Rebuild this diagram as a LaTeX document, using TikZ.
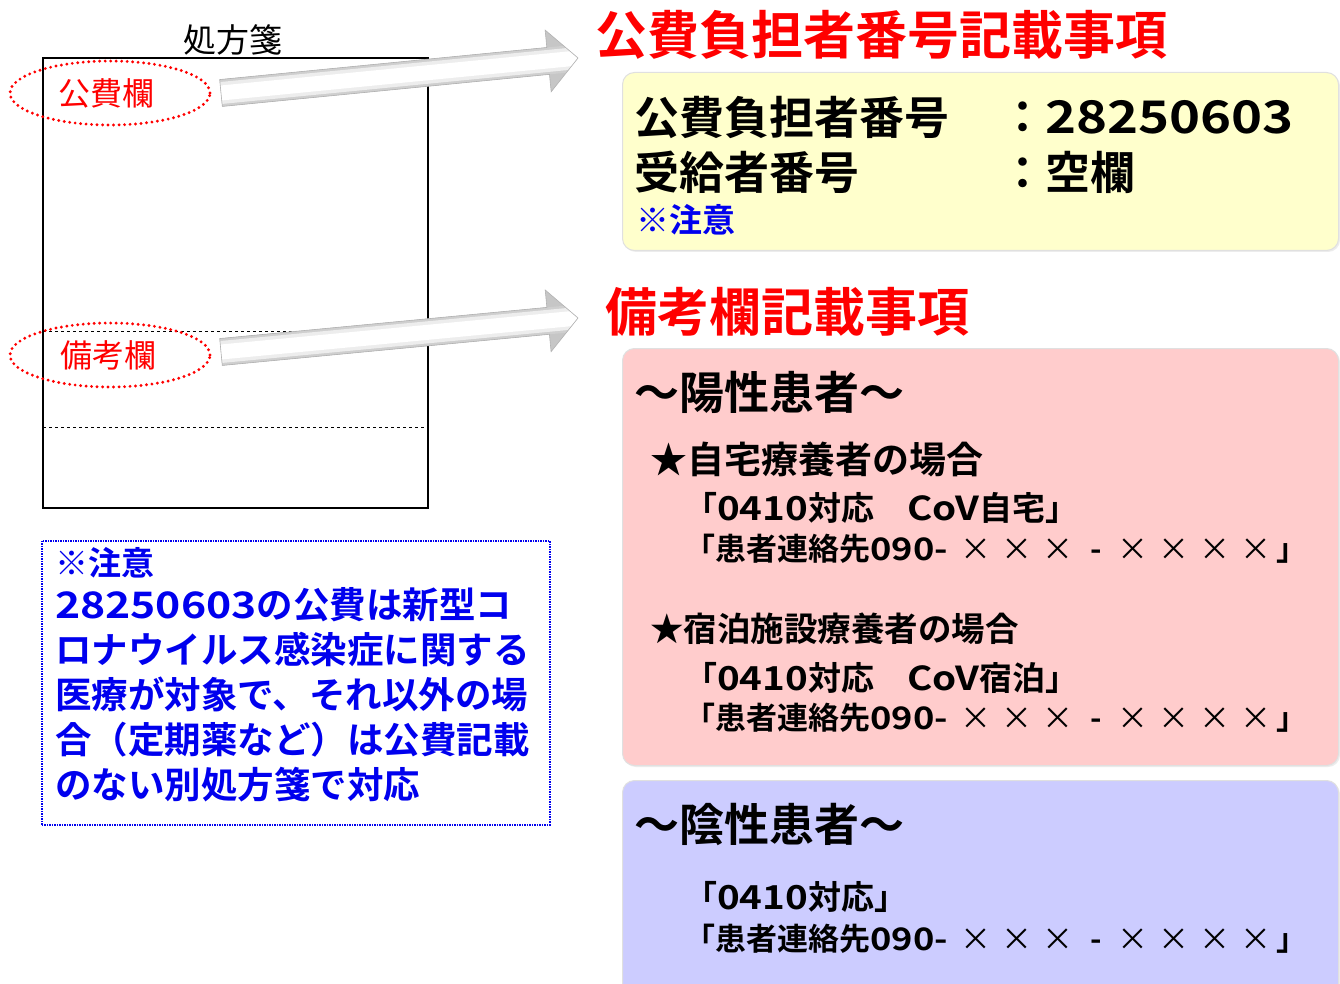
\documentclass[tikz,border=0pt]{standalone}
\usepackage{fontspec}
\setmainfont{Noto Sans CJK JP}[BoldFont={Noto Sans CJK JP Bold}]
\usetikzlibrary{shapes.geometric,calc,shadows}

\definecolor{rxred}{HTML}{FF0000}
\definecolor{rxblue}{HTML}{0000EE}
\definecolor{rxyellow}{HTML}{FFFFCC}
\definecolor{rxpink}{HTML}{FFCCCC}
\definecolor{rxlilac}{HTML}{CCCCFF}

\newcommand{\fsz}[1]{\fontsize{#1pt}{#1pt}\selectfont}
\newcommand{\widen}[1]{\scalebox{1.17}[1]{#1}}
\newcommand{\xcell}[2][41pt]{\makebox[#1]{#2}}
\newcommand{\telno}{「患者連絡先\widen{090-}\hspace{8pt}{\mdseries\xcell{×}\xcell{×}\xcell{×}}\xcell[34pt]{-}{\mdseries\xcell{×}\xcell{×}\xcell{×}\xcell{×}}」}

% shaded block arrow from #1 (tail) to #2 (tip)
\newcommand{\grayarrow}[2]{%
  \coordinate (#1-h) at ($(#2)!30pt!(#1)$);
  \draw[gray!60, line width=0.6pt, path picture={
      \draw[line width=70pt, gray!45] (#1) -- (#2);
      \draw[line width=27pt, gray!38] (#1) -- (#2);
      \draw[line width=22pt, gray!14] (#1) -- (#2);
      \draw[line width=15pt, white] (#1) -- (#2);
    }]
    ($(#1)!13.5pt!90:(#2)$) -- ($(#1-h)!13.5pt!90:(#2)$) -- ($(#1-h)!31pt!90:(#2)$) -- (#2)
    -- ($(#1-h)!31pt!-90:(#2)$) -- ($(#1-h)!13.5pt!-90:(#2)$) -- ($(#1)!13.5pt!-90:(#2)$) -- cycle;
}

\tikzset{
  fieldmark/.style={ellipse, draw=rxred, line width=3.2pt, dash pattern=on 0pt off 5.5pt,
    line cap=round, minimum width=200pt, minimum height=64pt, inner sep=0pt,
    text=rxred, font=\fsz{32}},
  heading/.style={anchor=west, inner sep=0pt, text=rxred, font=\fsz{52}\bfseries},
  infobox/.style={rectangle, rounded corners=12pt, anchor=north west, minimum width=716pt,
    draw=black!12, line width=1pt, drop shadow={opacity=0.15, shadow xshift=1.5pt, shadow yshift=-1.5pt}},
  boxtext/.style={anchor=west, inner sep=0pt, font=\fsz{#1}\bfseries},
}

\begin{document}
\begin{tikzpicture}[x=1pt, y=-1pt]
  \fill[white] (0,0) rectangle (1340,984);
  \useasboundingbox (0,0) rectangle (1340,984);

  % Prescription form
  \node[inner sep=0pt, font=\fsz{33}] (rxlabel) at (233,40) {処方箋};
  \node[draw, line width=2.5pt, minimum width=385pt, minimum height=450pt, inner sep=0pt] (rxform) at (235.5,283) {};
  \draw[dashed, thin] (43,331) -- (300,331);
  \draw[dashed, thin] (43,427) -- (428,427);

  \node[fieldmark] (kouMark) at (110,93) {\hspace{-8pt}公費欄};
  \node[fieldmark] (bikoMark) at (110,355) {\hspace{-4pt}備考欄};

  % Arrows
  \coordinate (kouTail) at (221,93);
  \coordinate (kouTip) at (578,58);
  \coordinate (bikoTail) at (221,352);
  \coordinate (bikoTip) at (578,318);
  \grayarrow{kouTail}{kouTip}
  \grayarrow{bikoTail}{bikoTip}

  % Headings
  \node[heading] (kouTitle) at (595,35) {公費負担者番号記載事項};
  \node[heading] (bikoTitle) at (605,312) {備考欄記載事項};

  % Public expense box
  \node[infobox, fill=rxyellow, minimum height=178pt] (kouBox) at (622,72) {};
  \node[boxtext=45] (kouNo) at (634,117) {公費負担者番号};
  \node[boxtext=45] (kouNoVal) at (1000,117) {：\widen{28250603}};
  \node[boxtext=45] (jukyuNo) at (634,172) {受給者番号};
  \node[boxtext=45] (jukyuVal) at (1000,172) {：空欄};
  \node[boxtext=33, text=rxblue] (kouNote) at (636,220) {※注意};

  % Positive patients
  \node[infobox, fill=rxpink, minimum height=417pt] (posBox) at (622,348) {};
  \node[boxtext=45] (posHead) at (634,392) {～陽性患者～};
  \node[boxtext=37] (homeCase) at (650,459) {★自宅療養者の場合};
  \node[boxtext=33] (homeCode) at (684,508) {「\widen{0410}対応　\widen{CoV}自宅」};
  \node[boxtext=31] (homeTel) at (684,549) {\telno};
  \node[boxtext=33.5] (hotelCase) at (650,629) {★宿泊施設療養者の場合};
  \node[boxtext=33] (hotelCode) at (684,678) {「\widen{0410}対応　\widen{CoV}宿泊」};
  \node[boxtext=31] (hotelTel) at (684,718) {\telno};

  % Negative patients
  \node[infobox, fill=rxlilac, minimum height=240pt] (negBox) at (622,780) {};
  \node[boxtext=45] (negHead) at (634,825) {～陰性患者～};
  \node[boxtext=33] (negCode) at (684,897) {「\widen{0410}対応」};
  \node[boxtext=31] (negTel) at (684,939) {\telno};

  % Note
  \node[draw=rxblue, densely dotted, line width=1.5pt, minimum width=508pt, minimum height=284pt,
    anchor=north west] (noteBox) at (41,540) {};
  \node[boxtext=33, text=rxblue] (noteHead) at (55,563) {※注意};
  \node[anchor=north west, inner sep=0pt, align=left, text=rxblue,
    font=\fontsize{36.5pt}{45pt}\selectfont\bfseries] (noteBody) at (55,587)
    {\widen{28250603}の公費は新型コ\\ロナウイルス感染症に関する\\医療が対象で、それ以外の場\\合（定期薬など）は公費記載\\のない別処方箋で対応};
\end{tikzpicture}
\end{document}
